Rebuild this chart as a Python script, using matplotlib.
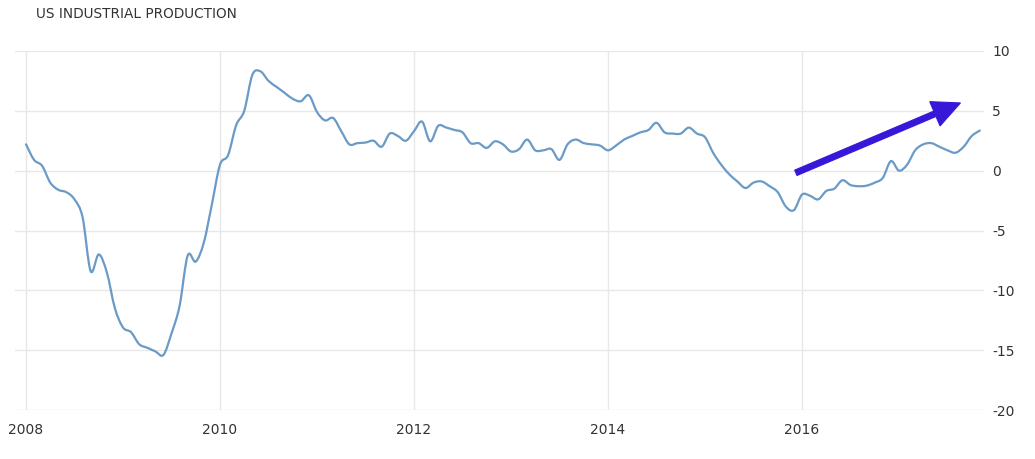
import numpy as np
import matplotlib
matplotlib.use("Agg")
import matplotlib.pyplot as plt
from matplotlib.path import Path
from matplotlib.patches import PathPatch, FancyArrowPatch

plt.rcParams['font.family'] = ['DejaVu Sans']
plt.rcParams['axes.unicode_minus'] = False

# US industrial production, YoY %, monthly from Jan 2008
valores = [2.2, 0.9, 0.4, -1.0, -1.6, -1.8, -2.4, -3.9, -8.4, -7.0,
           -8.5, -11.5, -13.1, -13.5, -14.5, -14.8, -15.1, -15.4, -13.6, -11.3,
           -7.1, -7.6, -6.0, -2.8, 0.5, 1.3, 3.8, 5.0, 8.0, 8.3,
           7.5, 7.0, 6.5, 6.0, 5.8, 6.3, 4.9, 4.2, 4.4, 3.3,
           2.2, 2.3, 2.35, 2.5, 2.0, 3.1, 2.9, 2.5, 3.3, 4.1,
           2.45, 3.75, 3.6, 3.4, 3.2, 2.3, 2.3, 1.9, 2.45, 2.2,
           1.6, 1.8, 2.6, 1.7, 1.7, 1.8, 0.9, 2.2, 2.6, 2.3,
           2.2, 2.1, 1.7, 2.1, 2.6, 2.9, 3.2, 3.4, 4.0, 3.2,
           3.1, 3.1, 3.6, 3.1, 2.8, 1.5, 0.5, -0.3, -0.9, -1.45,
           -1.0, -0.9, -1.3, -1.8, -3.0, -3.3, -2.0, -2.1, -2.4, -1.7,
           -1.5, -0.8, -1.2, -1.3, -1.25, -1.0, -0.6, 0.8, 0.0, 0.5,
           1.7, 2.2, 2.3, 2.0, 1.7, 1.5, 2.0, 2.9, 3.35]
fechas = 2008 + np.arange(len(valores)) / 12.0

anios = [2008, 2010, 2012, 2014, 2016]
niveles = [-20, -15, -10, -5, 0, 5, 10]

# flecha: inicio y fin
flecha_ini = (2015.91, -0.27)
flecha_fin = (2017.66, 5.75)

fig = plt.figure(figsize=(10.35, 4.59), dpi=100)
ax = fig.add_axes([15/1035, 1 - 410/459, 969/1035, 359/459])

# linea tipo spline (bezier entre los puntos mensuales)
x = np.asarray(fechas)
y = np.asarray(valores, dtype=float)
verts = [(x[0], y[0])]
codes = [Path.MOVETO]
for i in range(len(x) - 1):
    x0, y0 = (x[i - 1], y[i - 1]) if i > 0 else (x[i], y[i])
    x3, y3 = (x[i + 2], y[i + 2]) if i + 2 < len(x) else (x[i + 1], y[i + 1])
    c1 = (x[i] + (x[i + 1] - x0) / 6, y[i] + (y[i + 1] - y0) / 6)
    c2 = (x[i + 1] - (x3 - x[i]) / 6, y[i + 1] - (y3 - y[i]) / 6)
    verts += [c1, c2, (x[i + 1], y[i + 1])]
    codes += [Path.CURVE4] * 3
ax.add_patch(PathPatch(Path(verts, codes), facecolor='none', edgecolor='#6a9ac6',
                       linewidth=1.6, capstyle='round', joinstyle='round', zorder=3))

ax.set_xlim(2008 - 11/97, 2008 + 958/97)
ax.set_ylim(-20, 10)
ax.set_xticks(anios)
ax.set_yticks(niveles)
ax.yaxis.tick_right()
ax.tick_params(axis='both', length=0, labelsize=10, labelcolor='#333333')
ax.tick_params(axis='x', pad=9)
ax.tick_params(axis='y', pad=6)
for s in ax.spines.values():
    s.set_visible(False)
ax.grid(True, color='#e8e8e8', linewidth=1)
ax.set_axisbelow(True)

flecha = FancyArrowPatch(flecha_ini, flecha_fin,
                         arrowstyle='simple,head_length=2.0,head_width=1.9,tail_width=0.42',
                         mutation_scale=10, color='#3717d8', lw=0.8,
                         joinstyle='miter', capstyle='round', zorder=4)
ax.add_patch(flecha)

fig.text(36/1035, 1 - 14/459, 'US INDUSTRIAL PRODUCTION', fontsize=9.8,
         color='#333333', va='center', ha='left')

fig.savefig('out.png', dpi=100)
